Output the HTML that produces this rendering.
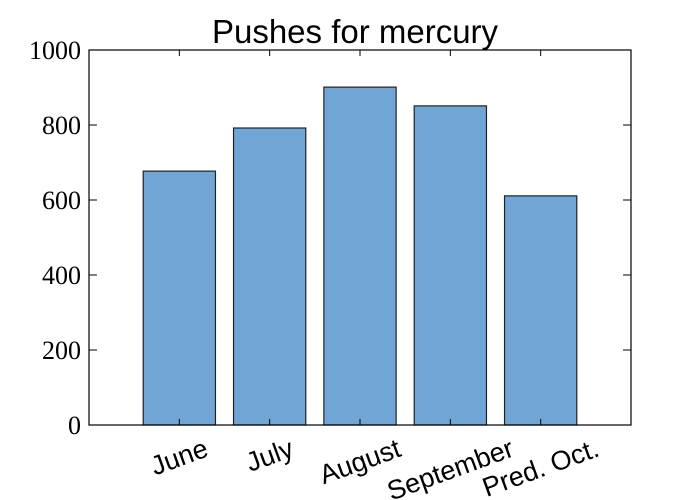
<!DOCTYPE html>
<html><head><meta charset="utf-8"><style>
html,body{margin:0;padding:0;background:#fff;}
svg{display:block;}
</style></head><body>
<svg id="chart" width="700" height="500">
<text x="355" y="43" font-family="Liberation Sans, sans-serif" font-size="33" text-anchor="middle">Pushes for mercury</text>
<g id="bars"></g>
<g id="axes"></g>
</svg>
<script>
const categories = ["June","July","August","September","Pred. Oct."];
const pushes = [677, 792, 901, 851, 611];
const yTicks = [0,200,400,600,800,1000];

const L=89,R=631,T=50,B=425;
const ns="http://www.w3.org/2000/svg";
function xs(v){return L+(v+1)/6*(R-L);}
function ys(v){return B-v/1000*(B-T);}
function mk(tag,attrs,parent){const e=document.createElementNS(ns,tag);for(const k in attrs)e.setAttribute(k,attrs[k]);parent.appendChild(e);return e;}
const bars=document.getElementById('bars'), axes=document.getElementById('axes');
categories.forEach((c,i)=>{
  const x0=xs(i-0.4),x1=xs(i+0.4);
  const r=mk('rect',{x:x0,y:ys(pushes[i]),width:x1-x0,height:ys(0)-ys(pushes[i]),fill:'#71a5d6',stroke:'#222','stroke-width':1.2},bars);
  
  
});
const frame=mk('rect',{x:L,y:T,width:R-L,height:B-T,fill:'none',stroke:'#000','stroke-width':1.2},axes);


yTicks.forEach(v=>{
  const y=ys(v);
  mk('line',{x1:L,x2:L+8,y1:y,y2:y,stroke:'#000'},axes);
  mk('line',{x1:R,x2:R-8,y1:y,y2:y,stroke:'#000'},axes);
  const t=mk('text',{x:L-8,y:y+9,'text-anchor':'end','font-family':'Liberation Serif, serif','font-size':26},axes);
  t.textContent=v;
  
  
});
categories.forEach((c,i)=>{
  const x=xs(i);
  mk('line',{x1:x,x2:x,y1:B,y2:B-6,stroke:'#000'},axes);
  mk('line',{x1:x,x2:x,y1:T,y2:T+6,stroke:'#000'},axes);
  const t=mk('text',{x:x,y:0,'text-anchor':'middle','dominant-baseline':'central','font-family':'Liberation Sans, sans-serif','font-size':27},axes);
  t.textContent=c;
  
  
  const bb=t.getBBox();
  const a=20*Math.PI/180;
  const h=bb.width*Math.sin(a)+bb.height*Math.cos(a);
  const cy=B+8+h/2;
  t.setAttribute('y',cy);
  t.setAttribute('transform','rotate(-20 '+x+' '+cy+')');
});
</script>
</body></html>
